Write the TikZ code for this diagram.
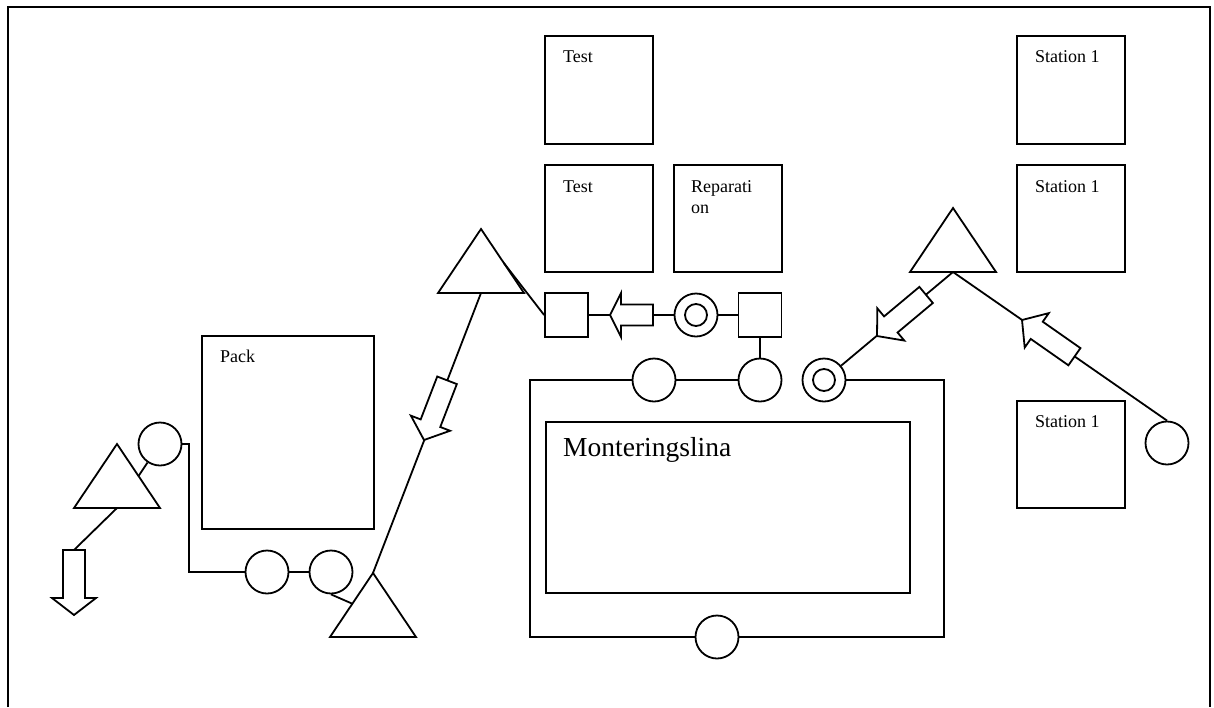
\documentclass[tikz,border=0pt]{standalone}
\usepackage{fontspec}
\setmainfont{Liberation Serif}
\usetikzlibrary{calc}
\tikzset{
  ln/.style={line width=1.8pt, line join=miter},
  box/.style={draw, line width=2pt, inner sep=0pt},
  sqbox/.style={draw, line width=1.8pt, inner sep=0pt, minimum width=43pt, minimum height=44pt},
  circ/.style={draw, circle, line width=1.8pt, minimum size=43pt, inner sep=0pt, fill=white},
  incirc/.style={draw, circle, line width=1.8pt, minimum size=22pt, inner sep=0pt},
  lbl/.style={inner sep=0pt, anchor=base west, font=\fontsize{18}{21}\selectfont},
  pics/tri/.style={code={
    \draw[ln] (0,0) coordinate (-apex) -- (43,64) coordinate (-br) -- (-43,64) coordinate (-bl) -- cycle;
    \coordinate (-base) at (0,64);
  }},
  pics/barrow/.style n args={4}{code={
    \draw[ln, fill=white] (0,0) -- (-#2,#3) -- (-#2,#4) -- (-#1,#4) -- (-#1,-#4) -- (-#2,-#4) -- (-#2,-#3) -- cycle;
  }}
}
\begin{document}
\begin{tikzpicture}[x=1pt,y=-1pt]
\useasboundingbox (0,0) rectangle (1214,707);
% outer frame (open at the bottom)
\draw[ln] (8,707) -- (8,7) -- (1210,7) -- (1210,707);

% boxes
\node[box, minimum width=108pt, minimum height=108pt] (test1) at (599,90) {};
\node[box, minimum width=108pt, minimum height=107pt] (test2) at (599,218.5) {};
\node[box, minimum width=108pt, minimum height=107pt] (rep) at (728,218.5) {};
\node[box, minimum width=108pt, minimum height=108pt] (st1) at (1071,90) {};
\node[box, minimum width=108pt, minimum height=107pt] (st2) at (1071,218.5) {};
\node[box, minimum width=108pt, minimum height=107pt] (st3) at (1071,454.5) {};
\node[box, minimum width=172pt, minimum height=193pt] (pack) at (288,432.5) {};
\node[box, minimum width=364pt, minimum height=171pt] (mont) at (728,507.5) {};

% labels
\node[lbl] (test1-t) at ($(test1.north west)+(19,27)$) {Test};
\node[lbl] (test2-t) at ($(test2.north west)+(19,28)$) {Test};
\node[lbl, text width=90pt, align=left] (rep-t) at ($(rep.north west)+(18,28)$) {Reparati\\on};
\node[lbl] (st1-t) at ($(st1.north west)+(19,27)$) {Station 1};
\node[lbl] (st2-t) at ($(st2.north west)+(19,28)$) {Station 1};
\node[lbl] (st3-t) at ($(st3.north west)+(19,27)$) {Station 1};
\node[lbl] (pack-t) at ($(pack.north west)+(19,27)$) {Pack};
\node[inner sep=0pt, anchor=base west, font=\fontsize{27.5}{33}\selectfont] (mont-t) at ($(mont.north west)+(18,35)$) {Monteringslina};

% squares
\node[sqbox] (sq1) at (566.5,315) {};
\node[sqbox] (sq2) at (760,315) {};

% circles
\node[circ] (dc1) at (696,315) {};
\node[incirc] (dc1i) at (dc1.center) {};
\node[circ] (dc2) at (824,380) {};
\node[incirc] (dc2i) at (dc2.center) {};
\node[circ] (c1) at (654,380) {};
\node[circ] (c2) at (760,380) {};
\node[circ] (c3) at (717,637) {};
\node[circ] (cl) at (160,444) {};
\node[circ] (ca) at (267,572) {};
\node[circ] (cb) at (331,572) {};
\node[circ] (cr) at (1167,443) {};

% triangles
\pic (t1) at (117,444) {tri};
\pic (t2) at (481,229) {tri};
\pic (t3) at (953,208) {tri};
\pic (t4) at (373,573) {tri};

% helper coordinates
\coordinate (ob-nw) at (530,380);
\coordinate (ob-ne) at (944,380);
\coordinate (ob-se) at (944,637);
\coordinate (ob-sw) at (530,637);
\coordinate (bend) at (189,444);
\coordinate (da-tail) at (74,550);

% connectors
\draw[ln] (c1.east) -- (c2.west);
\draw[ln] (dc2.east) -- (ob-ne) -- (ob-se) -- (c3.east);
\draw[ln] (c3.west) -- (ob-sw) -- (ob-nw) -- (c1.west);
\draw[ln] (sq2.south) -- (c2.north);
\draw[ln] (dc1.east) -- (sq2.west);
\draw[ln] (sq1.east) -- (dc1.west);
\draw[ln] ($(t2-apex)!0.53!(t2-br)$) -- (sq1.west);
\draw[ln] (t4-apex) -- (t2-base);
\draw[ln] (cb.south) -- ($(t4-apex)!0.48!(t4-bl)$);
\draw[ln] (ca.east) -- (cb.west);
\draw[ln] (cl.east) -- (bend) |- (ca.west);
\draw[ln] (cl) -- ($(t1-apex)!0.5!(t1-br)$);
\draw[ln] (t1-base) -- (da-tail);
\draw[ln] (dc2) -- (t3-base);
\draw[ln] (cr.north) -- (t3-base);

% block arrows
\pic[rotate=180] (a1) at (610,315) {barrow={43}{11}{22}{10.5}};
\pic[rotate=248.9] (a2) at (424,440) {barrow={64}{18}{21}{10.5}};
\pic[rotate=219.9] (a3) at (877,336) {barrow={64}{18}{21}{10.5}};
\pic[rotate=145] (a4) at (1022,320) {barrow={64}{18}{21}{10.5}};
\pic[rotate=270] (a5) at (74,615) {barrow={65}{17}{22}{11}};
\end{tikzpicture}
\end{document}
